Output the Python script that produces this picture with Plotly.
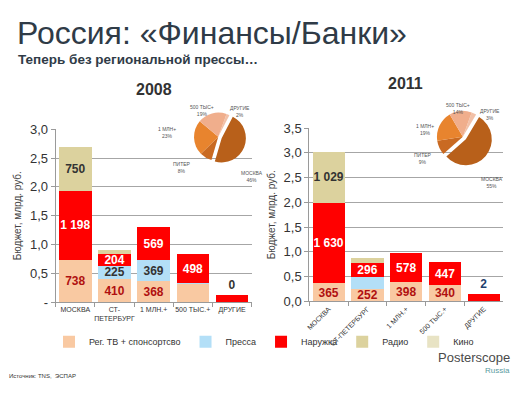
import plotly.graph_objects as go

categories_2008 = ["МОСКВА", "СТ-<br>ПЕТЕРБУРГ", "1 МЛН.+", "500 ТЫС.+", "ДРУГИЕ"]
categories_2011 = ["МОСКВА", "СТ-ПЕТЕРБУРГ", "1 МЛН.+", "500 ТЫС.+", "ДРУГИЕ"]

series_names = ["Рег. ТВ + спонсортсво", "Пресса", "Наружка", "Радио", "Кино"]

# values, million rub.
tv_2008 = [738, 410, 368, 320, 2]
press_2008 = [0, 225, 369, 15, 0]
outdoor_2008 = [1198, 204, 569, 498, 127]
radio_2008 = [750, 60, 0, 0, 0]
cinema_2008 = [0, 0, 0, 0, 0]

tv_2011 = [365, 252, 398, 340, 2]
press_2011 = [0, 230, 0, 0, 0]
outdoor_2011 = [1630, 296, 578, 447, 150]
radio_2011 = [1029, 100, 0, 0, 0]
cinema_2011 = [0, 0, 0, 0, 0]

# shown data labels
lbl_tv_2008 = ["738", "410", "368", "", ""]
lbl_press_2008 = ["", "225", "369", "", ""]
lbl_outdoor_2008 = ["1 198", "204", "569", "498", "0"]
lbl_radio_2008 = ["750", "", "", "", ""]

lbl_tv_2011 = ["365", "252", "398", "340", ""]
lbl_press_2011 = ["", "", "", "", ""]
lbl_outdoor_2011 = ["1 630", "296", "578", "447", "2"]
lbl_radio_2011 = ["1 029", "", "", "", ""]

pie_labels = ["ДРУГИЕ", "МОСКВА", "ПИТЕР", "1 МЛН+", "500 ТЫС+"]
pie_2008 = [2, 46, 8, 23, 19]
pie_2011 = [3, 55, 9, 19, 14]

y_ticks_2008 = [0, 0.5, 1.0, 1.5, 2.0, 2.5, 3.0]
y_ticktext_2008 = ["-", "0,5", "1,0", "1,5", "2,0", "2,5", "3,0"]
y_ticks_2011 = [0, 0.5, 1.0, 1.5, 2.0, 2.5, 3.0, 3.5]
y_ticktext_2011 = ["0,0", "0,5", "1,0", "1,5", "2,0", "2,5", "3,0", "3,5"]

colors = ["#F9C9A2", "#B3DFF7", "#FF0000", "#DCD29E", "#E8E3C4"]
text_colors = ["#B01010", "#333333", "#FFFFFF", "#333333", "#333333"]
pie_colors = ["#F2C1A8", "#B8601A", "#C96A22", "#E8842E", "#F0AE8C"]

FONT = "Liberation Sans"

fig = go.Figure()

data_2008 = [tv_2008, press_2008, outdoor_2008, radio_2008, cinema_2008]
data_2011 = [tv_2011, press_2011, outdoor_2011, radio_2011, cinema_2011]
lbl_2008 = [lbl_tv_2008, lbl_press_2008, lbl_outdoor_2008, lbl_radio_2008, [""] * 5]
lbl_2011 = [lbl_tv_2011, lbl_press_2011, lbl_outdoor_2011, lbl_radio_2011, [""] * 5]
pos = ["inside", "inside", "inside", "inside", "outside"]

for i, name in enumerate(series_names):
    fig.add_trace(go.Bar(
        x=categories_2008, y=[v / 1000 for v in data_2008[i]], name=name,
        marker=dict(color=colors[i], line=dict(width=0)),
        text=lbl_2008[i], textposition=pos, insidetextanchor="middle", textangle=0,
        textfont=dict(family=FONT, size=14, color=text_colors[i], weight="bold"),
        outsidetextfont=dict(family=FONT, size=14, color="#333333", weight="bold"),
        cliponaxis=False,
        xaxis="x", yaxis="y", showlegend=True, legendgroup=name,
    ))
for i, name in enumerate(series_names):
    fig.add_trace(go.Bar(
        x=categories_2011, y=[v / 1000 for v in data_2011[i]], name=name,
        marker=dict(color=colors[i], line=dict(width=0)),
        text=lbl_2011[i], textposition=pos, insidetextanchor="middle", textangle=0,
        textfont=dict(family=FONT, size=14, color=text_colors[i], weight="bold"),
        outsidetextfont=dict(family=FONT, size=14, color="#1F3F6F", weight="bold"),
        cliponaxis=False,
        xaxis="x2", yaxis="y2", showlegend=False, legendgroup=name,
    ))

pie_common = dict(
    labels=pie_labels, sort=False, direction="clockwise", rotation=20,
    pull=[0, 0.15, 0, 0, 0], marker=dict(colors=pie_colors, line=dict(width=0)),
    textinfo="none", showlegend=False, hoverinfo="label+percent",
)
fig.add_trace(go.Pie(values=pie_2008,
                     domain=dict(x=[178 / 525, 255 / 525], y=[1 - 164 / 393, 1 - 106 / 393]),
                     **pie_common))
fig.add_trace(go.Pie(values=pie_2011,
                     domain=dict(x=[420 / 525, 505 / 525], y=[1 - 166 / 393, 1 - 104 / 393]),
                     **pie_common))

axis_common = dict(showgrid=False, showline=True, linecolor="#9A9A9A", linewidth=1,
                   ticks="outside", ticklen=4, tickcolor="#9A9A9A", tickson="boundaries")
yaxis_common = dict(showgrid=True, gridcolor="#A6A6A6", gridwidth=1.2, showline=True,
                    linecolor="#9A9A9A", ticks="outside", ticklen=4, tickcolor="#9A9A9A",
                    zeroline=False)

fig.update_layout(
    width=525, height=393, margin=dict(l=0, r=0, t=0, b=0),
    paper_bgcolor="white", plot_bgcolor="white",
    font=dict(family=FONT, color="#333333"),
    barmode="stack", bargap=0.17,
    xaxis=dict(domain=[53 / 525, 250 / 525], anchor="y",
               tickfont=dict(size=7, color="#333333"), tickangle=0, **axis_common),
    yaxis=dict(domain=[1 - 307 / 393, 1 - 127 / 393], anchor="x", range=[0, 3.0],
               tickvals=y_ticks_2008, ticktext=y_ticktext_2008,
               tickfont=dict(size=13, color="#333333"),
               title=dict(text="Бюджет, млрд. руб.", font=dict(size=10, color="#444444"), standoff=6),
               **yaxis_common),
    xaxis2=dict(domain=[308 / 525, 503 / 525], anchor="y2",
                tickfont=dict(size=7, color="#333333"), tickangle=-45, **axis_common),
    yaxis2=dict(domain=[1 - 306 / 393, 1 - 126 / 393], anchor="x2", range=[0, 3.5],
                tickvals=y_ticks_2011, ticktext=y_ticktext_2011,
                tickfont=dict(size=13, color="#333333"),
                title=dict(text="Бюджет, млрд. руб.", font=dict(size=10, color="#444444"), standoff=6),
                **yaxis_common),
    legend=dict(orientation="h", x=0.5, xanchor="center", y=1 - 348 / 393, yanchor="middle",
                font=dict(size=9, color="#333333"), itemwidth=30, tracegroupgap=0,
                bgcolor="rgba(0,0,0,0)"),
    uniformtext=dict(mode="show", minsize=11),
)

annotations = [
    dict(text="Россия: «Финансы/Банки»", x=12 / 525, y=1 - 27 / 393, xanchor="left", yanchor="middle",
         font=dict(size=32, color="#2F3B47")),
    dict(text="<b>Теперь без региональной прессы…</b>", x=13 / 525, y=1 - 55 / 393, xanchor="left",
         yanchor="middle", font=dict(size=13.5, color="#2F3B47")),
    dict(text="<b>2008</b>", x=152 / 525, y=1 - 86 / 393, xanchor="center", yanchor="middle",
         font=dict(size=16, color="#333333")),
    dict(text="<b>2011</b>", x=405 / 525, y=1 - 80 / 393, xanchor="center", yanchor="middle",
         font=dict(size=16, color="#333333")),
    dict(text="Posterscope", x=512 / 525, y=1 - 364 / 393, xanchor="right", yanchor="middle",
         font=dict(size=13, color="#4A4A4A")),
    dict(text="Russia", x=512 / 525, y=1 - 378 / 393, xanchor="right", yanchor="middle",
         font=dict(size=8, color="#5A9AA0")),
    dict(text="Источник: TNS,  ЭСПАР", x=4 / 525, y=1 - 384 / 393, xanchor="left", yanchor="middle",
         font=dict(size=6, color="#333333")),
]

# small pie labels (label + share), placed around each pie
pie_label_pos_2008 = [(238, 109), (250, 176), (180, 167), (165, 130), (200, 108)]
pie_label_pos_2011 = [(490, 112), (492, 182), (422, 158), (424, 127), (458, 106)]
for labels, vals, posn in [(pie_labels, pie_2008, pie_label_pos_2008),
                           (pie_labels, pie_2011, pie_label_pos_2011)]:
    for lab, v, (px, py) in zip(labels, vals, posn):
        annotations.append(dict(text=f"{lab}<br>{v}%", x=px / 525, y=1 - py / 393,
                                xanchor="center", yanchor="middle",
                                font=dict(size=5, color="#555555")))

for a in annotations:
    a.update(xref="paper", yref="paper", showarrow=False)
fig.update_layout(annotations=annotations)

fig.write_html("out.html", config={"displayModeBar": False},
               post_script="document.body.style.margin='0';")
